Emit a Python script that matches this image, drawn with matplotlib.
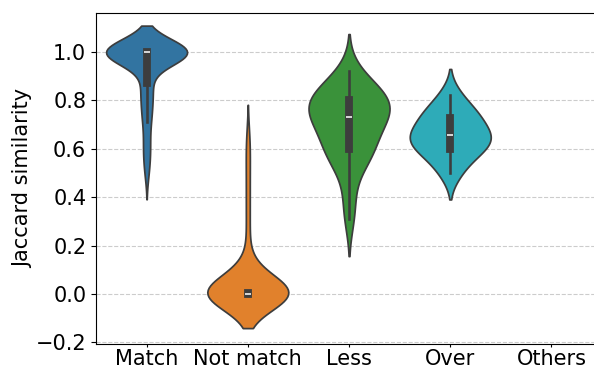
import numpy as np
import pandas as pd
import matplotlib
matplotlib.use('Agg')
import matplotlib.pyplot as plt
import seaborn as sns

categories = ['Match', 'Not match', 'Less', 'Over', 'Others']
palette = ['#1f77b4', '#ff7f0e', '#2ca02c', '#17becf', '#9467bd']

# Jaccard scores per group, stored as (value, how many times it occurs)
match_values = [0.50, 0.55, 0.60, 0.65, 0.71, 0.75, 0.79, 0.83, 0.86, 0.87, 0.95, 1.00]
match_counts = [2, 2, 3, 2, 3, 3, 3, 3, 3, 2, 2, 72]

not_match_values = [0.00, 0.02, 0.07, 0.12, 0.25, 0.35, 0.45, 0.55, 0.64]
not_match_counts = [33, 1, 3, 2, 1, 1, 1, 1, 1]

less_values = [0.31, 0.40, 0.50, 0.56, 0.59, 0.63, 0.68, 0.73, 0.75, 0.80, 0.82, 0.84, 0.88, 0.92]
less_counts = [1, 1, 1, 2, 2, 2, 2, 3, 3, 3, 2, 2, 1, 1]

over_values = [0.50, 0.56, 0.60, 0.64, 0.67, 0.72, 0.75, 0.82]
over_counts = [1, 1, 2, 2, 2, 1, 2, 1]


def expand(name, values, counts):
    scores = np.repeat(values, counts)
    return pd.DataFrame({'group': name, 'jaccard': scores})


df = pd.concat([
    expand('Match', match_values, match_counts),
    expand('Not match', not_match_values, not_match_counts),
    expand('Less', less_values, less_counts),
    expand('Over', over_values, over_counts),
], ignore_index=True)

fig = plt.figure(figsize=(5.94, 3.69), dpi=100)
ax = fig.add_axes([0.1616, 0.0678, 0.852, 0.8983])

sns.violinplot(data=df, x='group', y='jaccard', order=categories,
               hue='group', hue_order=categories, palette=palette,
               legend=False, density_norm='width', ax=ax)

ax.set_ylim(-0.207, 1.163)
ax.set_xlim(-0.5, 4.5)
ax.set_xlabel('')
ax.set_ylabel('Jaccard similarity', fontsize=15, labelpad=2)
ax.tick_params(axis='y', labelsize=15)
ax.tick_params(axis='x', labelsize=15, length=2.5, pad=1)
ax.yaxis.grid(True, linestyle='--', color='#cccccc', linewidth=0.8)
ax.set_axisbelow(True)

fig.savefig('out.png', dpi=100)
